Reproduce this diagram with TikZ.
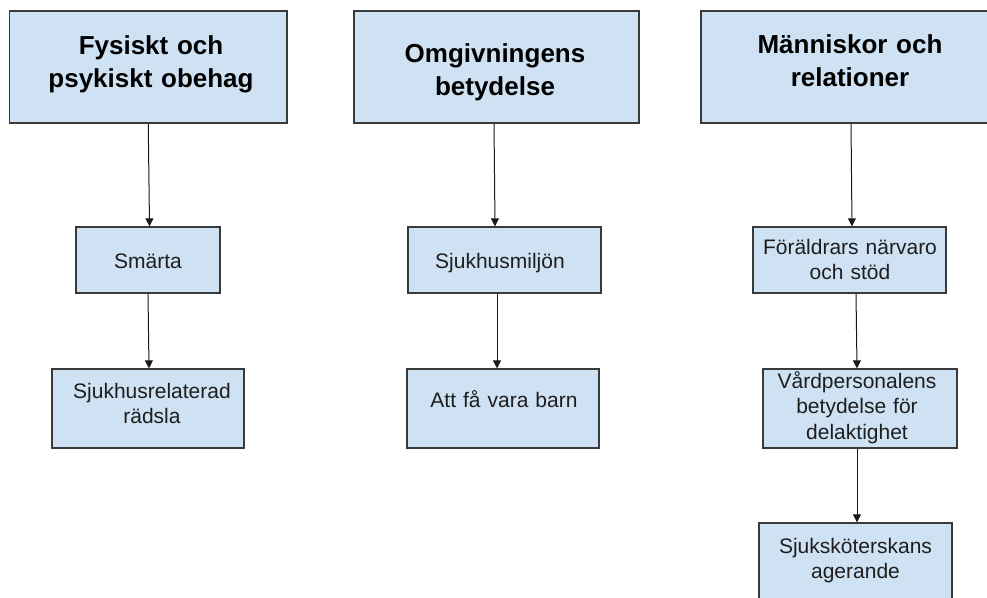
\documentclass[tikz,border=0pt]{standalone}
\usepackage{fontspec}
\setmainfont{Liberation Sans}
\usetikzlibrary{arrows.meta,calc}
\definecolor{boxfill}{HTML}{CFE2F3}
\definecolor{boxline}{HTML}{3A3A3A}
\definecolor{txt}{HTML}{1E1E1E}
\begin{document}
\begin{tikzpicture}[x=1pt,y=-1pt,
  box/.style={draw=boxline,fill=boxfill,line width=1.3pt,inner sep=0pt},
  head/.style={font=\bfseries\fontsize{26}{33}\selectfont,align=center,anchor=base,text width=270pt,inner sep=0pt,text=black},
  sub/.style={font=\fontsize{21}{25.5}\selectfont,align=center,anchor=base,text width=190pt,inner sep=0pt,text=txt},
  arr/.style={draw=black!90,line width=1pt,-{Triangle[length=8pt,width=8pt]}}]
\useasboundingbox (0,0) rectangle (987,597);
\clip (0,0) rectangle (987,597);
% header boxes
\node[box,minimum width=277.5pt,minimum height=112pt] (h1) at (148.25,67) {};
\node[box,minimum width=285pt,minimum height=112pt] (h2) at (496.5,67) {};
\node[box,minimum width=298pt,minimum height=112pt] (h3) at (850,67) {};
\node[head] (h1t) at (151,54) {Fysiskt och\\psykiskt obehag};
\node[head] (h2t) at (495,62) {Omgivningens\\betydelse};
\node[head] (h3t) at (850,53) {Människor och\\relationer};
% sub boxes
\node[box,minimum width=144pt,minimum height=66pt] (m1) at (148,260) {};
\node[box,minimum width=192pt,minimum height=79pt] (m2) at (148,408.5) {};
\node[box,minimum width=193pt,minimum height=66pt] (n1) at (504.5,260) {};
\node[box,minimum width=192pt,minimum height=79pt] (n2) at (503,408.5) {};
\node[box,minimum width=193pt,minimum height=66pt] (r1) at (849.5,260) {};
\node[box,minimum width=194pt,minimum height=79pt] (r2) at (860,408.5) {};
\node[box,minimum width=193pt,minimum height=79pt] (r3) at (855.5,562.5) {};
\node[sub] (m1t) at (148,268) {Smärta};
\node[sub] (m2t) at (152,398) {Sjukhusrelaterad\\rädsla};
\node[sub] (n1t) at (500,268) {Sjukhusmiljön};
\node[sub] (n2t) at (504,407) {Att få vara barn};
\node[sub] (r1t) at (850,254) {Föräldrars närvaro\\och stöd};
\node[sub] (r2t) at (857,388) {Vårdpersonalens\\betydelse för\\delaktighet};
\node[sub] (r3t) at (855.5,553) {Sjuksköterskans\\agerande};
% connectors
\draw[arr] (h1.south) -- ([xshift=1.5pt]m1.north);
\draw[arr] (m1.south) -- ([xshift=1pt]m2.north);
\draw[arr] ([xshift=-2.5pt]h2.south) -- ([xshift=-9.5pt]n1.north);
\draw[arr] ([xshift=-7.5pt]n1.south) -- ([xshift=-6pt]n2.north);
\draw[arr] ([xshift=1pt]h3.south) -- ([xshift=2.5pt]r1.north);
\draw[arr] ([xshift=6.5pt]r1.south) -- ([xshift=-3pt]r2.north);
\draw[arr] ([xshift=-3pt]r2.south) -- ([xshift=1.5pt]r3.north);
\end{tikzpicture}
\end{document}
